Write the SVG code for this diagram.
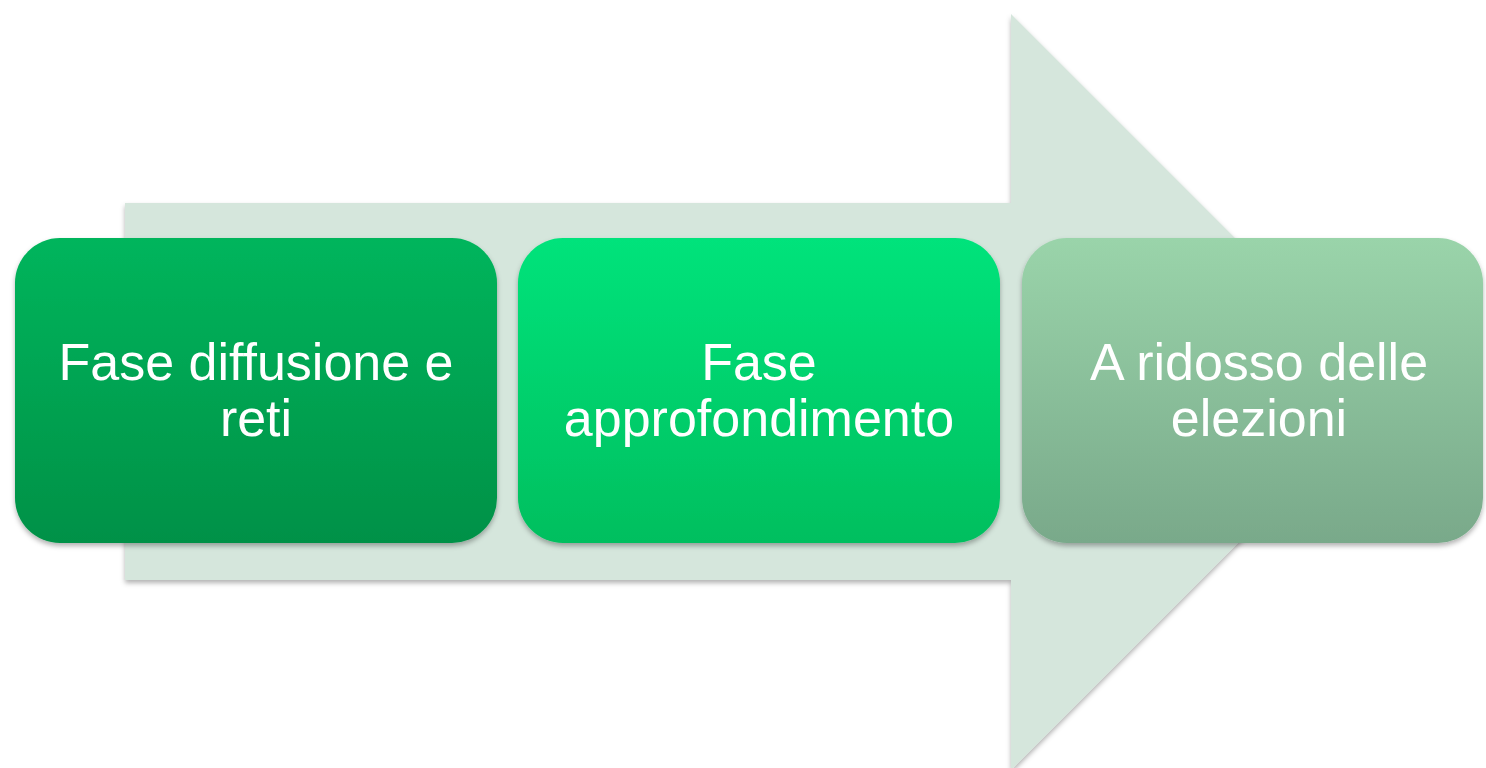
<svg xmlns="http://www.w3.org/2000/svg" width="1486" height="768" viewBox="0 0 1486 768">
<defs>
<style>
.lbl{font-family:"Liberation Sans",Arial,sans-serif;font-size:52px;fill:#ffffff;text-anchor:middle;font-variant-ligatures:none}
</style>
<linearGradient id="g1" x1="0" y1="0" x2="0" y2="1">
<stop offset="0" stop-color="#00b55c"/><stop offset="1" stop-color="#009147"/>
</linearGradient>
<linearGradient id="g2" x1="0" y1="0" x2="0" y2="1">
<stop offset="0" stop-color="#00e37b"/><stop offset="1" stop-color="#00bf5f"/>
</linearGradient>
<linearGradient id="g3" x1="0" y1="0" x2="0" y2="1">
<stop offset="0" stop-color="#9ad4aa"/><stop offset="1" stop-color="#79a98a"/>
</linearGradient>
<filter id="sh" x="-10%" y="-10%" width="120%" height="130%">
<feDropShadow dx="0" dy="3" stdDeviation="2.5" flood-color="#000" flood-opacity="0.3"/>
</filter>
</defs>
<rect width="1486" height="768" fill="#ffffff"/>
<g id="arrow" filter="url(#sh)">
<polygon points="125,203 1011,203 1011,14 1389,392 1011,770 1011,580 125,580" fill="#d5e6dc"/>
</g>
<g id="node1" filter="url(#sh)">
<rect x="15" y="238" width="482" height="305" rx="45" fill="url(#g1)"/>
<text class="lbl" x="256" y="380">Fase diffusione e</text>
<text class="lbl" x="256" y="436">reti</text>
</g>
<g id="node2" filter="url(#sh)">
<rect x="518" y="238" width="482" height="305" rx="45" fill="url(#g2)"/>
<text class="lbl" x="759" y="380">Fase</text>
<text class="lbl" x="759" y="436">approfondimento</text>
</g>
<g id="node3" filter="url(#sh)">
<rect x="1022" y="238" width="461" height="305" rx="45" fill="url(#g3)"/>
<text class="lbl" x="1259" y="380">A ridosso delle</text>
<text class="lbl" x="1259" y="436">elezioni</text>
</g>
<g id="connectors"/>
</svg>
